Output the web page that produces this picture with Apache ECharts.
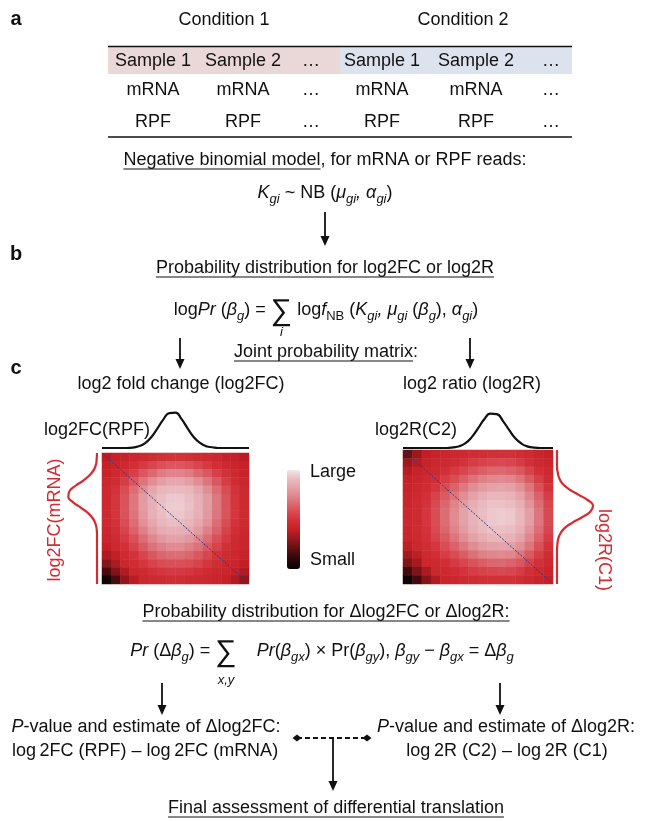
<!DOCTYPE html>
<html><head><meta charset="utf-8">
<script src="https://cdn.jsdelivr.net/npm/echarts@6/dist/echarts.min.js"></script>
<style>html,body{margin:0;padding:0;background:#fff}#c{width:651px;height:821px}</style>
</head><body><div id="c"></div>
<script>
// ---------------- data ----------------
const conditions = ['Condition 1', 'Condition 2'];
const tableHeader = ['Sample 1', 'Sample 2', '…', 'Sample 1', 'Sample 2', '…'];
const tableRowMrna = ['mRNA', 'mRNA', '…', 'mRNA', 'mRNA', '…'];
const tableRowRpf = ['RPF', 'RPF', '…', 'RPF', 'RPF', '…'];

// joint probability matrix for log2FC (rows top->bottom: log2FC(mRNA); cols: log2FC(RPF)); 1 = large, 0 = small
const fcMatrix = [
  [0.38,0.41,0.42,0.44,0.45,0.47,0.49,0.50,0.50,0.49,0.47,0.45,0.44,0.42,0.41,0.38],
  [0.41,0.43,0.45,0.48,0.52,0.56,0.59,0.61,0.61,0.59,0.56,0.52,0.48,0.45,0.43,0.41],
  [0.42,0.45,0.49,0.54,0.61,0.66,0.71,0.73,0.73,0.71,0.66,0.61,0.54,0.49,0.45,0.42],
  [0.44,0.47,0.53,0.61,0.69,0.76,0.81,0.84,0.84,0.81,0.76,0.69,0.61,0.53,0.47,0.44],
  [0.45,0.50,0.58,0.67,0.76,0.84,0.89,0.90,0.90,0.89,0.84,0.76,0.67,0.58,0.50,0.45],
  [0.45,0.51,0.60,0.70,0.80,0.87,0.91,0.93,0.93,0.91,0.87,0.80,0.70,0.60,0.51,0.45],
  [0.45,0.51,0.60,0.70,0.80,0.87,0.92,0.94,0.94,0.92,0.87,0.80,0.70,0.60,0.51,0.45],
  [0.45,0.51,0.60,0.69,0.79,0.87,0.91,0.93,0.93,0.91,0.87,0.79,0.69,0.60,0.51,0.45],
  [0.45,0.50,0.58,0.67,0.77,0.84,0.89,0.91,0.91,0.89,0.84,0.77,0.67,0.58,0.50,0.45],
  [0.44,0.48,0.55,0.64,0.72,0.80,0.85,0.87,0.87,0.85,0.80,0.72,0.64,0.55,0.48,0.44],
  [0.43,0.46,0.52,0.59,0.67,0.74,0.79,0.82,0.82,0.79,0.74,0.67,0.59,0.52,0.46,0.43],
  [0.40,0.45,0.49,0.55,0.62,0.68,0.72,0.75,0.75,0.72,0.68,0.62,0.55,0.49,0.45,0.43],
  [0.35,0.40,0.46,0.50,0.56,0.61,0.65,0.67,0.67,0.65,0.61,0.56,0.50,0.46,0.44,0.42],
  [0.28,0.35,0.44,0.47,0.51,0.55,0.58,0.59,0.59,0.58,0.55,0.51,0.47,0.44,0.43,0.40],
  [0.16,0.27,0.36,0.44,0.46,0.49,0.51,0.52,0.52,0.51,0.49,0.46,0.44,0.43,0.41,0.36],
  [0.04,0.16,0.30,0.38,0.44,0.45,0.46,0.47,0.47,0.46,0.45,0.44,0.43,0.41,0.36,0.30]
];
// joint probability matrix for log2R (rows: log2R(C1); cols: log2R(C2))
const ratioMatrix = [
  [0.22,0.32,0.40,0.42,0.43,0.44,0.45,0.47,0.48,0.49,0.49,0.49,0.47,0.45,0.43,0.41],
  [0.32,0.37,0.42,0.44,0.45,0.47,0.50,0.53,0.55,0.56,0.57,0.56,0.53,0.49,0.45,0.43],
  [0.37,0.42,0.44,0.45,0.48,0.52,0.56,0.60,0.63,0.65,0.66,0.64,0.61,0.55,0.49,0.45],
  [0.41,0.43,0.45,0.48,0.53,0.58,0.63,0.68,0.72,0.74,0.75,0.74,0.69,0.62,0.54,0.47],
  [0.42,0.44,0.47,0.51,0.58,0.64,0.70,0.76,0.80,0.82,0.83,0.82,0.77,0.69,0.59,0.50],
  [0.43,0.45,0.49,0.55,0.62,0.69,0.76,0.82,0.86,0.89,0.89,0.88,0.83,0.74,0.64,0.53],
  [0.43,0.46,0.50,0.57,0.65,0.73,0.80,0.86,0.90,0.92,0.92,0.91,0.87,0.78,0.67,0.56],
  [0.44,0.46,0.51,0.58,0.67,0.75,0.82,0.88,0.91,0.93,0.94,0.93,0.89,0.81,0.69,0.57],
  [0.44,0.46,0.51,0.58,0.67,0.75,0.82,0.88,0.91,0.93,0.94,0.93,0.89,0.81,0.69,0.57],
  [0.43,0.46,0.50,0.57,0.65,0.73,0.80,0.86,0.90,0.92,0.92,0.91,0.87,0.78,0.67,0.56],
  [0.43,0.45,0.49,0.55,0.62,0.69,0.76,0.82,0.86,0.89,0.89,0.88,0.83,0.74,0.64,0.53],
  [0.39,0.44,0.47,0.51,0.58,0.64,0.70,0.76,0.80,0.82,0.83,0.82,0.77,0.69,0.59,0.50],
  [0.34,0.39,0.45,0.48,0.53,0.58,0.63,0.68,0.72,0.74,0.75,0.74,0.69,0.62,0.54,0.47],
  [0.27,0.34,0.44,0.45,0.48,0.52,0.56,0.60,0.63,0.65,0.66,0.64,0.61,0.55,0.49,0.45],
  [0.15,0.26,0.35,0.44,0.45,0.47,0.50,0.53,0.55,0.56,0.57,0.56,0.53,0.49,0.45,0.43],
  [0.03,0.15,0.28,0.36,0.43,0.44,0.45,0.47,0.48,0.49,0.49,0.49,0.47,0.45,0.43,0.41]
];
// marginal densities (25 samples along each axis)
const fcRpfCurve  = [0,0,0,0,0,0.01,0.05,0.13,0.29,0.53,0.79,0.97,0.98,0.80,0.54,0.30,0.14,0.05,0.02,0,0,0,0,0,0];
const fcMrnaCurve = [0,0.01,0.03,0.10,0.24,0.46,0.74,0.95,0.99,0.83,0.56,0.31,0.14,0.05,0.01,0,0,0,0,0,0,0,0,0,0];
const r2Curve     = [0,0,0,0,0,0,0,0,0.02,0.05,0.14,0.31,0.56,0.82,0.98,0.97,0.77,0.51,0.27,0.12,0.04,0.01,0,0,0];
const r1Curve     = [0,0,0,0,0.02,0.06,0.15,0.33,0.59,0.86,1.00,0.93,0.71,0.43,0.21,0.09,0.03,0.01,0,0,0,0,0,0,0];
const diagLine = [[0, 1], [1, 0]];
const scaleLabels = ['Large', 'Small'];

// ---------------- helpers ----------------
const FONT = '"Liberation Sans", Arial, Helvetica, sans-serif';
const FS = 18;
const RED = '#d42a30';
const INK = '#111111';
const mctx = document.createElement('canvas').getContext('2d');
function fontStr(size, italic, bold) { return (italic ? 'italic ' : '') + (bold ? 'bold ' : '') + size + 'px ' + FONT; }
function tw(text, size, italic) { mctx.font = fontStr(size, italic); return mctx.measureText(text).width; }
function T(text, x, y, o) {
  o = o || {};
  const size = o.size || FS;
  return {
    type: 'text', x: x, y: y, rotation: o.rot || 0, z: 10,
    style: {
      text: text, fill: o.color || INK,
      font: fontStr(size, o.italic, o.bold),
      align: o.align || 'center', verticalAlign: 'middle',
      textAlign: o.align || 'center', textVerticalAlign: 'middle'
    }
  };
}
function L(x1, y1, x2, y2, o) {
  o = o || {};
  return { type: 'line', z: 10, shape: { x1: x1, y1: y1, x2: x2, y2: y2 },
    style: { stroke: o.color || INK, lineWidth: o.w || 1.5, lineDash: o.dash || null } };
}
function arrowDown(x, y1, y2) {
  return [L(x, y1, x, y2 - 8, { w: 1.8 }),
    { type: 'polygon', z: 10, shape: { points: [[x - 4.5, y2 - 10], [x + 4.5, y2 - 10], [x, y2]] }, style: { fill: INK } }];
}
const SEG = {
  n: { size: FS, italic: false, dy: 0 },
  i: { size: FS, italic: true, dy: 0 },
  s: { size: 13, italic: true, dy: 6 },
  sn: { size: 13, italic: false, dy: 6 },
  sig: { size: 30, italic: false, dy: 2 }
};
function formula(segs, cx, cy, under, underDy) {
  let total = 0;
  segs.forEach(s => { total += tw(s[0], SEG[s[1]].size, SEG[s[1]].italic); });
  let x = cx - total / 2;
  const els = [];
  segs.forEach(s => {
    const st = SEG[s[1]];
    const w = tw(s[0], st.size, st.italic);
    els.push(T(s[0], x, cy + st.dy, { align: 'left', size: st.size, italic: st.italic }));
    if (s[1] === 'sig' && under) els.push(T(under, x + w / 2, cy + underDy, { size: 13, italic: true }));
    x += w;
  });
  return els;
}
function underlined(text, cx, cy, part) {
  const w = tw(text, FS, false);
  const uw = tw(part || text, FS, false);
  const x0 = cx - w / 2;
  return [T(text, cx, cy), L(x0, cy + 9, x0 + uw, cy + 9, { w: 1 })];
}

// ---------------- graphic layer ----------------
const g = [];
g.push(T('a', 16, 19, { bold: true, size: 20 }));
g.push(T('b', 16, 254, { bold: true, size: 20 }));
g.push(T('c', 16, 368, { bold: true, size: 20 }));
const colX = [153, 243, 311, 382, 476, 551];
g.push({ type: 'rect', z: 1, shape: { x: 108, y: 47, width: 232, height: 27 }, style: { fill: '#ead7d7' } });
g.push({ type: 'rect', z: 1, shape: { x: 340, y: 47, width: 232, height: 27 }, style: { fill: '#dde3ee' } });
g.push(L(108, 46.5, 572, 46.5, { w: 1.5 }));
g.push(L(108, 137, 572, 137, { w: 1.5 }));
g.push(T(conditions[0], 224, 20));
g.push(T(conditions[1], 463, 20));
tableHeader.forEach((t, k) => g.push(T(t, colX[k], 61)));
tableRowMrna.forEach((t, k) => g.push(T(t, colX[k], 90)));
tableRowRpf.forEach((t, k) => g.push(T(t, colX[k], 122)));
g.push(...underlined('Negative binomial model, for mRNA or RPF reads:', 325, 160, 'Negative binomial model'));
g.push(...formula([['K','i'],['gi','s'],[' ~ NB (','n'],['μ','i'],['gi','s'],[', ','i'],['α','i'],['gi','s'],[')','n']], 325, 193));
g.push(...arrowDown(325, 212, 246));
g.push(...underlined('Probability distribution for log2FC or log2R', 325, 268));
g.push(...formula([['log','n'],['Pr','i'],[' (','n'],['β','i'],['g','s'],[') = ','n'],['∑','sig'],[' log','n'],['f','i'],['NB','sn'],[' (','n'],['K','i'],['gi','s'],[', ','i'],['μ','i'],['gi','s'],[' (','n'],['β','i'],['g','s'],['), ','n'],['α','i'],['gi','s'],[')','n']], 326, 310, 'i', 22));
g.push(...arrowDown(180, 338, 369));
g.push(...arrowDown(470, 338, 369));
g.push(...underlined('Joint probability matrix:', 326, 352, 'Joint probability matrix'));
g.push(T('log2 fold change (log2FC)', 181, 384));
g.push(T('log2 ratio (log2R)', 472, 384));
g.push(T('log2FC(RPF)', 97, 430));
g.push(T('log2R(C2)', 416, 430));
g.push(T('log2FC(mRNA)', 55, 520, { color: RED, rot: Math.PI / 2 }));
g.push(T('log2R(C1)', 604, 550, { color: RED, rot: -Math.PI / 2 }));
g.push(T(scaleLabels[0], 310, 472, { align: 'left' }));
g.push(T(scaleLabels[1], 310, 560, { align: 'left' }));
g.push(...underlined('Probability distribution for Δlog2FC or Δlog2R:', 326, 612));
g.push(...formula([['Pr','i'],[' (Δ','n'],['β','i'],['g','s'],[') = ','n'],['∑','sig'],['    ','n'],['Pr','i'],['(','n'],['β','i'],['gx','s'],[') × Pr(','n'],['β','i'],['gy','s'],['), ','n'],['β','i'],['gy','s'],[' − ','n'],['β','i'],['gx','s'],[' = Δ','n'],['β','i'],['g','s']], 322, 651, 'x,y', 29));
g.push(...arrowDown(162, 683, 715));
g.push(...arrowDown(500, 683, 715));
g.push(...formula([['P','i'],['-value and estimate of Δlog2FC:','n']], 146, 727));
g.push(T('log\u20092FC (RPF) – log\u20092FC (mRNA)', 145, 751));
g.push(...formula([['P','i'],['-value and estimate of Δlog2R:','n']], 506, 727));
g.push(T('log\u20092R (C2) – log\u20092R (C1)', 507, 751));
g.push(L(297, 738, 367, 738, { w: 2, dash: [5, 3] }));
[297, 367].forEach(x => g.push({ type: 'polygon', z: 10, shape: { points: [[x - 4.5, 738], [x, 734.5], [x + 4.5, 738], [x, 741.5]] }, style: { fill: INK } }));
g.push(...arrowDown(333, 738, 791));
g.push(...underlined('Final assessment of differential translation', 336, 808));

// ---------------- chart ----------------
function heatData(m) {
  const d = [];
  m.forEach((row, r) => row.forEach((v, c) => d.push([c, r, v])));
  return d;
}
const idx16 = Array.from({ length: 16 }, (_, k) => k);
const grids = [
  { left: 102, top: 453, width: 147, height: 131 },  // left heatmap
  { left: 403, top: 450, width: 150, height: 134 },  // right heatmap
  { left: 102, top: 412, width: 147, height: 36 },   // top curve left
  { left: 403, top: 413, width: 150, height: 35 },   // top curve right
  { left: 68, top: 453, width: 29, height: 131 },    // left red curve
  { left: 557, top: 450, width: 36, height: 134 }    // right red curve
];
const xAxes = [
  { gridIndex: 0, type: 'category', data: idx16, show: false },
  { gridIndex: 1, type: 'category', data: idx16, show: false },
  { gridIndex: 0, type: 'value', min: 0, max: 1, show: false },
  { gridIndex: 1, type: 'value', min: 0, max: 1, show: false },
  { gridIndex: 2, type: 'value', min: 0, max: 24, show: false },
  { gridIndex: 3, type: 'value', min: 0, max: 24, show: false },
  { gridIndex: 4, type: 'value', min: 0, max: 1, inverse: true, show: false },
  { gridIndex: 5, type: 'value', min: 0, max: 1, show: false }
];
const yAxes = [
  { gridIndex: 0, type: 'category', data: idx16, inverse: true, show: false },
  { gridIndex: 1, type: 'category', data: idx16, inverse: true, show: false },
  { gridIndex: 0, type: 'value', min: 0, max: 1, show: false },
  { gridIndex: 1, type: 'value', min: 0, max: 1, show: false },
  { gridIndex: 2, type: 'value', min: 0, max: 1, show: false },
  { gridIndex: 3, type: 'value', min: 0, max: 1, show: false },
  { gridIndex: 4, type: 'value', min: 0, max: 24, inverse: true, show: false },
  { gridIndex: 5, type: 'value', min: 0, max: 24, inverse: true, show: false }
];
function curveSeries(xi, data, color, vertical) {
  return {
    type: 'line', xAxisIndex: xi, yAxisIndex: xi, symbol: 'none', smooth: true, clip: false, silent: true,
    data: data.map((v, k) => vertical ? [v, k] : [k, v]),
    lineStyle: { color: color, width: 2.2 }
  };
}
const option = {
  animation: false,
  backgroundColor: '#fff',
  grid: grids,
  xAxis: xAxes,
  yAxis: yAxes,
  visualMap: {
    type: 'continuous', min: 0, max: 1, seriesIndex: [0, 1], calculable: false, hoverLink: false,
    orient: 'vertical', left: 282, top: 465, itemWidth: 13, itemHeight: 99, padding: 5, text: null,
    inRange: { color: ['#050203', '#2c0709', '#5c0e11', '#91171b', '#c41f26', '#d4323a', '#d9535b', '#de7880', '#e39ba2', '#e8b9be', '#f4e6e8'] }
  },
  series: [
    { type: 'heatmap', xAxisIndex: 0, yAxisIndex: 0, data: heatData(fcMatrix), silent: true, itemStyle: { borderWidth: 0 } },
    { type: 'heatmap', xAxisIndex: 1, yAxisIndex: 1, data: heatData(ratioMatrix), silent: true, itemStyle: { borderWidth: 0 } },
    { type: 'line', xAxisIndex: 2, yAxisIndex: 2, data: diagLine, symbol: 'none', silent: true, lineStyle: { color: '#2b3a8f', width: 1, type: [2, 1.5] } },
    { type: 'line', xAxisIndex: 3, yAxisIndex: 3, data: diagLine, symbol: 'none', silent: true, lineStyle: { color: '#2b3a8f', width: 1, type: [2, 1.5] } },
    curveSeries(4, fcRpfCurve, INK, false),
    curveSeries(5, r2Curve, INK, false),
    curveSeries(6, fcMrnaCurve, RED, true),
    curveSeries(7, r1Curve, RED, true)
  ],
  graphic: { elements: g }
};
const chart = echarts.init(document.getElementById('c'), null, { renderer: 'canvas' });
chart.setOption(option);
</script>
</body></html>
